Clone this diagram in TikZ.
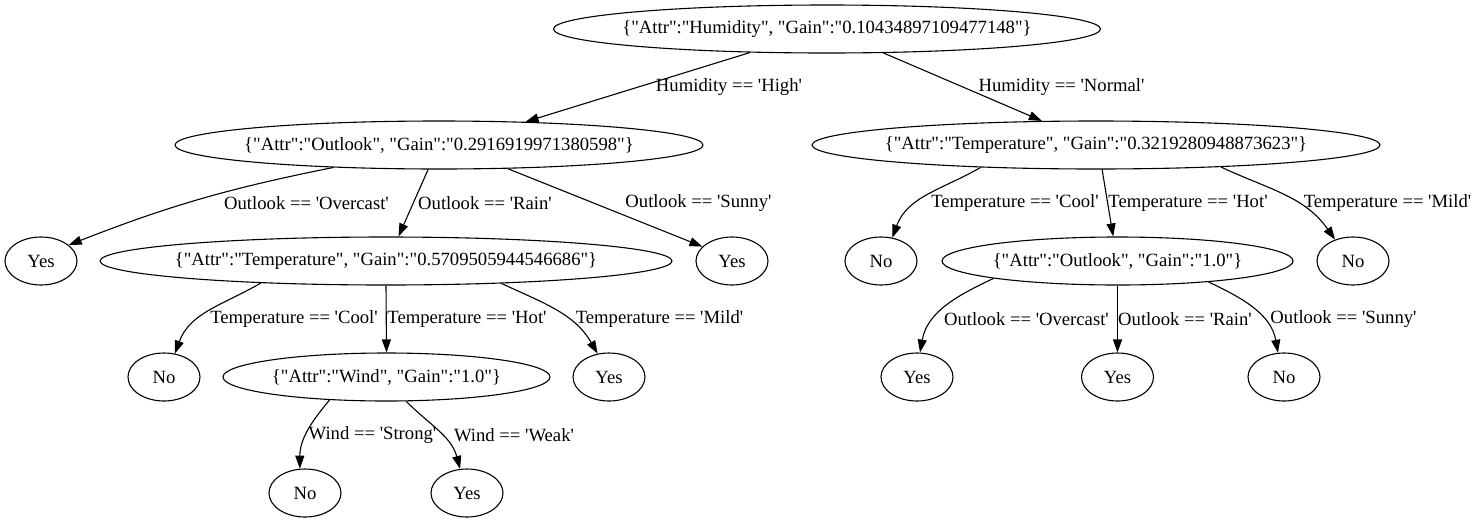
\documentclass[tikz,border=0pt]{standalone}
\usepackage{fontspec}
\setmainfont{Liberation Serif}[Ligatures=TeXOff]
\usetikzlibrary{arrows.meta,shapes.geometric}
\begin{document}
\begin{tikzpicture}[x=1pt,y=1pt,
  every node/.style={font=\rmfamily\fontsize{18.67}{22}\selectfont},
  ell/.style={draw, ellipse, line width=1.1pt, minimum height=48pt, minimum width=72pt, inner sep=0pt},
  lbl/.style={inner sep=0pt},
  edge/.style={line width=1.1pt, -{Triangle[length=13pt,width=9pt]}}]
\useasboundingbox (0,0) rectangle (1480,-523);
% nodes
\node[ell, minimum width=547pt] (root) at (827,-29) {\makebox[0pt]{\{"Attr":"Humidity", "Gain":"0.10434897109477148"\}}};
\node[ell, minimum width=528pt] (out1) at (439,-145) {\makebox[0pt]{\{"Attr":"Outlook", "Gain":"0.2916919971380598"\}}};
\node[ell, minimum width=568pt] (tmp1) at (1096,-145) {\makebox[0pt]{\{"Attr":"Temperature", "Gain":"0.3219280948873623"\}}};
\node[ell] (yes1) at (41,-261) {Yes};
\node[ell, minimum width=572pt] (tmp2) at (386,-261) {\makebox[0pt]{\{"Attr":"Temperature", "Gain":"0.5709505944546686"\}}};
\node[ell] (yes2) at (732,-261) {Yes};
\node[ell] (no1) at (881,-261) {No};
\node[ell, minimum width=351pt] (out2) at (1117.5,-261) {\makebox[0pt]{\{"Attr":"Outlook", "Gain":"1.0"\}}};
\node[ell] (no2) at (1353,-261) {No};
\node[ell] (no3) at (164,-377) {No};
\node[ell, minimum width=327pt] (wind) at (386.5,-377) {\makebox[0pt]{\{"Attr":"Wind", "Gain":"1.0"\}}};
\node[ell] (yes3) at (609,-377) {Yes};
\node[ell] (yes4) at (917,-377) {Yes};
\node[ell] (yes5) at (1117.5,-377) {Yes};
\node[ell] (no4) at (1284,-377) {No};
\node[ell] (no5) at (305,-493) {No};
\node[ell] (yes6) at (467,-493) {Yes};
% edges
\draw[edge] (root.197.3) -- (out1.15.9);
\draw[edge] (root.-23.5) -- (tmp1.156.9);
\draw[edge] (out1.-168.3) to[bend right=5] (yes1.30.6);
\draw[edge] (out1.-114.6) -- (tmp2.63.4);
\draw[edge] (out1.-19.8) -- (yes2.154.2);
\draw[edge] (tmp1.-169.1) to[out=-150,in=70] (no1.64.4);
\draw[edge] (tmp1.-76) -- (out2.100.6);
\draw[edge] (tmp1.-10.9) to[out=-25,in=125] (no2.130.6);
\draw[edge] (tmp2.190.1) to[out=-150,in=70] (no3.65.4);
\draw[edge] (tmp2.south) -- (wind.north);
\draw[edge] (tmp2.-11.1) to[out=-25,in=120] (yes3.116.6);
\draw[edge] (out2.188) to[out=-155,in=80] (yes4.83);
\draw[edge] (out2.south) -- (yes5.north);
\draw[edge] (out2.-13.1) to[out=-25,in=100] (no4.104);
\draw[edge] (wind.202.4) to[out=-130,in=90] (no5.102);
\draw[edge] (wind.-51.8) to[out=-45,in=105] (yes6.106);
% edge labels
\node[lbl] (l1) at (729,-87) {Humidity == 'High'};
\node[lbl] (l2) at (1061.5,-87) {Humidity == 'Normal'};
\node[lbl] (l3) at (306.5,-203) {Outlook == 'Overcast'};
\node[lbl] (l4) at (485,-203) {Outlook == 'Rain'};
\node[lbl] (l5) at (698.5,-203) {Outlook == 'Sunny'};
\node[lbl] (l6) at (1015,-203) {Temperature == 'Cool'};
\node[lbl] (l7) at (1188,-203) {Temperature == 'Hot'};
\node[lbl] (l8) at (1387.5,-203) {Temperature == 'Mild'};
\node[lbl] (l9) at (294,-319) {Temperature == 'Cool'};
\node[lbl] (l10) at (467,-319) {Temperature == 'Hot'};
\node[lbl] (l11) at (659.5,-319) {Temperature == 'Mild'};
\node[lbl] (l12) at (1026.5,-319) {Outlook == 'Overcast'};
\node[lbl] (l13) at (1185,-319) {Outlook == 'Rain'};
\node[lbl] (l14) at (1343.5,-319) {Outlook == 'Sunny'};
\node[lbl] (l15) at (372.5,-435) {Wind == 'Strong'};
\node[lbl] (l16) at (514,-435) {Wind == 'Weak'};
\end{tikzpicture}
\end{document}
